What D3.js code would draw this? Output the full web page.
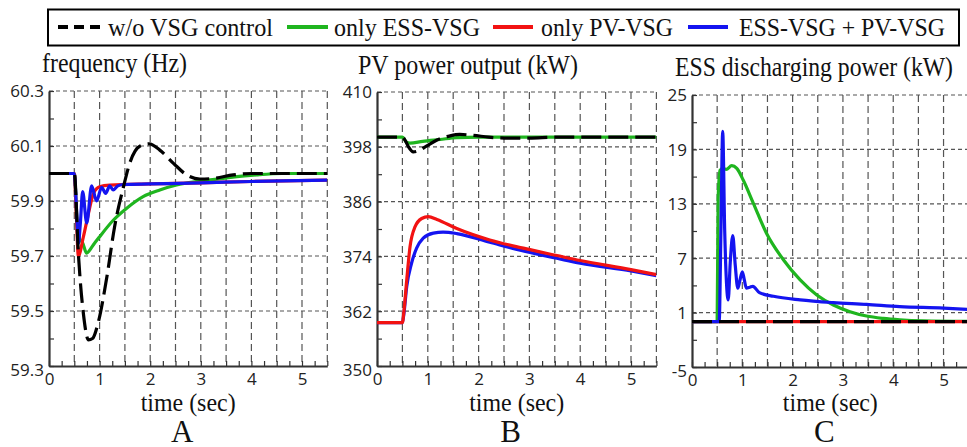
<!DOCTYPE html>
<html>
<head>
<meta charset="utf-8">
<title>VSG response</title>
<script src="https://cdn.jsdelivr.net/npm/d3@7"></script>
<style>
  body { margin: 0; background: #fff; }
  .serif { font-family: "Liberation Serif", "Times New Roman", serif; fill: #111; }
  .tick text { font-family: "Open Sans", "DejaVu Sans", sans-serif; font-size: 17px; fill: #222; }
  .grid line { stroke: #555; stroke-width: 1.2; }
</style>
</head>
<body>
<script>

  // time axis shared by all panels (sec)
  var timeDomain = [0, 5.5];
  var timeTicks = [0, 1, 2, 3, 4, 5];

  // A: frequency (Hz), [t, value]
  var freqNoVSG = [[0,60.0],[0.5,60.0],[0.58,59.71],[0.68,59.49],[0.78,59.395],[0.86,59.40],[0.975,59.46],[1.14,59.62],[1.3,59.81],[1.47,59.95],[1.6,60.04],[1.8,60.10],[1.98,60.108],[2.19,60.085],[2.46,60.037],[2.72,59.995],[2.98,59.98],[3.25,59.982],[3.64,59.995],[4.0,60.0],[5.5,60.0]];
  var freqEss = [[0,60.0],[0.5,60.0],[0.56,59.80],[0.61,59.76],[0.66,59.75],[0.745,59.71],[0.8,59.72],[0.875,59.74],[1.0,59.77],[1.27,59.83],[1.53,59.873],[1.86,59.916],[2.19,59.94],[2.52,59.958],[2.98,59.972],[3.51,59.984],[4.1,59.995],[4.6,60.0],[5.5,60.0]];
  var freqPv = [[0,60.0],[0.5,60.0],[0.54,59.85],[0.58,59.70],[0.68,59.77],[0.78,59.855],[0.88,59.928],[1.0,59.952],[1.2,59.958],[2,59.962],[3,59.966],[4,59.971],[5.5,59.976]];
  var freqBoth = [[0,60.0],[0.5,60.0],[0.547,59.855],[0.58,59.745],[0.62,59.82],[0.665,59.934],[0.745,59.82],[0.843,59.955],[0.94,59.90],[1.04,59.95],[1.12,59.928],[1.2,59.955],[1.27,59.94],[1.36,59.955],[1.47,59.96],[2,59.962],[3,59.966],[4,59.971],[5.5,59.976]];

  // B: PV power output (kW)
  var pvNoVSG = [[0,400.1],[0.5,400.1],[0.56,399.3],[0.62,398.0],[0.715,396.9],[0.85,397.3],[0.98,398.2],[1.18,399.5],[1.44,400.4],[1.63,400.7],[1.9,400.5],[2.2,400.1],[2.6,399.9],[3.0,399.9],[3.5,400.1],[5.5,400.1]];
  var pvEss = [[0,400.1],[0.5,400.1],[0.58,399.0],[0.65,398.8],[0.9,399.2],[1.24,399.6],[1.57,400.0],[2,400.1],[5.5,400.1]];
  var pvPv = [[0,359.5],[0.5,359.5],[0.53,362],[0.585,368.8],[0.65,376.1],[0.75,380.5],[0.88,382.3],[1.01,382.7],[1.18,382.1],[1.57,380.1],[2.22,377.6],[2.88,375.8],[3.54,374.2],[4.0,373.1],[5.0,371.1],[5.5,370.0]];
  var pvBoth = [[0,359.5],[0.5,359.5],[0.53,361.5],[0.585,367.4],[0.68,372.5],[0.78,375.8],[0.91,378.0],[1.11,379.1],[1.3,379.3],[1.57,379.0],[2.22,377.1],[2.88,375.2],[3.54,373.6],[4.0,372.5],[5.0,370.8],[5.5,369.8]];

  // C: ESS discharging power (kW)
  var essNoVSG = [[0,0],[5.5,0]];
  var essPv = [[0,0],[5.5,0]];
  var essEss = [[0,0],[0.5,0],[0.52,13.6],[0.557,16.7],[0.62,16.9],[0.68,16.8],[0.79,17.2],[0.89,16.9],[1.02,15.6],[1.22,13.05],[1.48,9.75],[1.82,6.8],[2.15,4.6],[2.48,2.94],[2.81,1.84],[3.14,1.1],[3.47,0.62],[3.8,0.36],[4.13,0.2],[4.6,0.08],[5.5,0.02]];
  var essBoth = [[0,0],[0.54,0],[0.575,10],[0.61,21.0],[0.65,10],[0.72,2.4],[0.76,6.5],[0.81,9.5],[0.86,6.2],[0.91,3.7],[0.95,4.5],[1.0,5.5],[1.04,4.6],[1.08,3.7],[1.15,3.8],[1.21,3.9],[1.34,3.2],[1.62,2.8],[2.15,2.4],[2.81,2.1],[3.47,1.9],[4.13,1.65],[5.0,1.5],[5.5,1.35]];

  // y tick labels per panel
  var freqTicks = [59.3, 59.5, 59.7, 59.9, 60.1, 60.3];
  var pvTicks = [350, 362, 374, 386, 398, 410];
  var essTicks = [-5, 1, 7, 13, 19, 25];

  var legendNames = ["w/o VSG control", "only ESS-VSG", "only PV-VSG", "ESS-VSG + PV-VSG"];
  var colors = { noVSG: "#000", ess: "#1fb51f", pv: "#f21212", both: "#1414f0" };

  var width = 967, height = 447;

  var svg = d3.select("body").append("svg")
    .attr("width", width)
    .attr("height", height);

  // legend
  var legend = svg.append("g");
  legend.append("rect")
    .attr("x", 48).attr("y", 9.5).attr("width", 911).attr("height", 36)
    .attr("fill", "none").attr("stroke", "#000").attr("stroke-width", 2);

  var legendItems = [
    { key: "noVSG", x0: 58, x1: 100, tx: 108, tw: 165, dash: "10,6" },
    { key: "ess", x0: 287, x1: 328, tx: 334, tw: 146 },
    { key: "pv", x0: 493, x1: 533, tx: 541, tw: 132 },
    { key: "both", x0: 688, x1: 728, tx: 739, tw: 206 }
  ];
  legendItems.forEach(function(d, i) {
    legend.append("line")
      .attr("x1", d.x0).attr("x2", d.x1).attr("y1", 27).attr("y2", 27)
      .attr("stroke", colors[d.key]).attr("stroke-width", 4)
      .attr("stroke-dasharray", d.dash || null);
    legend.append("text")
      .attr("class", "serif")
      .attr("x", d.tx).attr("y", 36)
      .attr("font-size", 26)
      .attr("textLength", d.tw)
      .attr("lengthAdjust", "spacingAndGlyphs")
      .text(legendNames[i]);
  });

  var plain = d => String(d);

  var panels = [
    { id: "A", title: "frequency (Hz)", tx: 42, tw: 145, ty: 72,
      x0: 49, x1: 327.3, y0: 91, y1: 366, domain: [59.3, 60.3], ticks: freqTicks, minor: 0.1, fmt: d3.format(".1f"),
      series: [["ess", freqEss], ["pv", freqPv], ["both", freqBoth], ["noVSG", freqNoVSG]] },
    { id: "B", title: "PV power output (kW)", tx: 358, tw: 220, ty: 74,
      x0: 377, x1: 656.4, y0: 92, y1: 366, domain: [350, 410], ticks: pvTicks, minor: 6, fmt: plain,
      series: [["ess", pvEss], ["both", pvBoth], ["pv", pvPv], ["noVSG", pvNoVSG]] },
    { id: "C", title: "ESS discharging power (kW)", tx: 675, tw: 278, ty: 76,
      x0: 692, x1: 968.7, y0: 95, y1: 367, domain: [-5, 25], ticks: essTicks, minor: 3, fmt: plain,
      series: [["ess", essEss], ["pv", essPv], ["both", essBoth], ["noVSG", essNoVSG]] }
  ];

  panels.forEach(function(p) {
    var x = d3.scaleLinear().domain(timeDomain).range([p.x0, p.x1]);
    var y = d3.scaleLinear().domain(p.domain).range([p.y1, p.y0]);
    var g = svg.append("g");

    // grid
    var grid = g.append("g").attr("class", "grid");
    grid.selectAll(".h").data(p.ticks.slice(1)).enter().append("line")
      .attr("x1", p.x0).attr("x2", p.x1)
      .attr("y1", d => y(d)).attr("y2", d => y(d))
      .attr("stroke-dasharray", "4,3");
    grid.selectAll(".v").data(d3.range(0.5, 5.51, 0.5)).enter().append("line")
      .attr("x1", d => x(d)).attr("x2", d => x(d))
      .attr("y1", p.y0).attr("y2", p.y1)
      .attr("stroke-dasharray", "7,4");

    // minor ticks
    var minorY = d3.range(p.domain[0], p.domain[1] + 1e-9, p.minor);
    g.append("g")
      .attr("transform", `translate(${p.x0},0)`)
      .call(d3.axisLeft(y).tickValues(minorY).tickSize(-5).tickFormat(""))
      .call(a => a.select(".domain").remove())
      .selectAll("line").attr("stroke", "#333").attr("stroke-width", 1.2);
    g.append("g")
      .attr("transform", `translate(0,${p.y1})`)
      .call(d3.axisBottom(x).tickValues(d3.range(0, 5.51, 0.25)).tickSize(-5).tickFormat(""))
      .call(a => a.select(".domain").remove())
      .selectAll("line").attr("stroke", "#333").attr("stroke-width", 1.2);

    // labelled axes
    g.append("g")
      .attr("transform", `translate(${p.x0},0)`)
      .call(d3.axisLeft(y).tickValues(p.ticks).tickSize(0).tickPadding(5).tickFormat(p.fmt))
      .call(a => a.select(".domain").attr("stroke", "#333").attr("stroke-width", 2.2))
      .call(a => a.selectAll("text").attr("dy", (d, i) => i === 0 ? "0.55em" : "0.35em"));
    g.append("g")
      .attr("transform", `translate(0,${p.y1})`)
      .call(d3.axisBottom(x).tickValues(timeTicks).tickSize(0).tickPadding(7).tickFormat(plain))
      .call(a => a.select(".domain").attr("stroke", "#333").attr("stroke-width", 2.2));

    // curves
    g.append("clipPath").attr("id", "clip" + p.id)
      .append("rect").attr("x", p.x0).attr("y", p.y0 - 2)
      .attr("width", p.x1 - p.x0).attr("height", p.y1 - p.y0);

    var line = d3.line()
      .x(d => x(d[0]))
      .y(d => y(d[1]))
      .curve(d3.curveMonotoneX);

    g.append("g").attr("clip-path", `url(#clip${p.id})`)
      .selectAll("path").data(p.series).enter().append("path")
      .attr("d", d => line(d[1]))
      .attr("fill", "none")
      .attr("stroke", d => colors[d[0]])
      .attr("stroke-width", 3.2)
      .attr("stroke-linejoin", "round")
      .attr("stroke-dasharray", d => d[0] === "noVSG" ? "20,7" : null);

    // texts
    svg.append("text").attr("class", "serif")
      .attr("x", p.tx).attr("y", p.ty)
      .attr("font-size", 27)
      .attr("textLength", p.tw).attr("lengthAdjust", "spacingAndGlyphs")
      .text(p.title);
    svg.append("text").attr("class", "serif")
      .attr("x", x(2.75)).attr("y", 411)
      .attr("text-anchor", "middle")
      .attr("font-size", 25)
      .attr("textLength", 95).attr("lengthAdjust", "spacingAndGlyphs")
      .text("time (sec)");
    svg.append("text").attr("class", "serif")
      .attr("x", x(2.75) - 6).attr("y", 442)
      .attr("text-anchor", "middle")
      .attr("font-size", 31)
      .text(p.id);
  });

</script>
</body>
</html>
